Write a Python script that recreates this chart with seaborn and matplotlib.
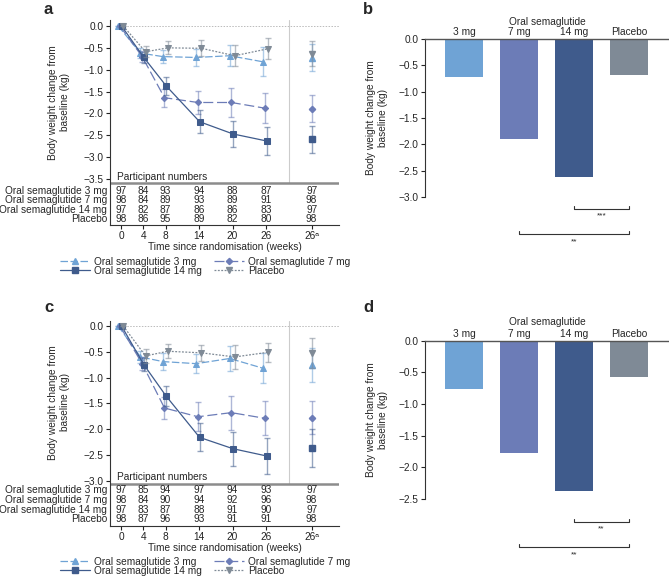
import numpy as np
import pandas as pd
import matplotlib
matplotlib.use('Agg')
import matplotlib.pyplot as plt
import seaborn as sns
from matplotlib.lines import Line2D

sns.set_style('ticks')
plt.rcParams['font.family'] = ['Liberation Sans', 'DejaVu Sans']
plt.rcParams['font.size'] = 7.3

# ---- data ----
weeks = [0, 4, 8, 14, 20, 26]
week_extra = 34.2          # position of the "26a" column
tick_labels = ['0', '4', '8', '14', '20', '26', '26\u1d43']
names = ['3 mg', '7 mg', '14 mg', 'Placebo']
row_names = ['Oral semaglutide 3 mg', 'Oral semaglutide 7 mg',
             'Oral semaglutide 14 mg', 'Placebo']

# panel a
a_mean = {
    '3 mg':    [0, -0.62, -0.70, -0.72, -0.68, -0.82],
    '7 mg':    [0, -0.70, -1.64, -1.75, -1.75, -1.88],
    '14 mg':   [0, -0.72, -1.37, -2.19, -2.47, -2.63],
    'Placebo': [0, -0.59, -0.50, -0.51, -0.68, -0.52],
}
a_se = {
    '3 mg':    [0, 0.12, 0.15, 0.19, 0.24, 0.33],
    '7 mg':    [0, 0.12, 0.21, 0.27, 0.33, 0.35],
    '14 mg':   [0, 0.12, 0.20, 0.26, 0.30, 0.33],
    'Placebo': [0, 0.13, 0.15, 0.18, 0.24, 0.24],
}
a_last = {'3 mg': -0.73, '7 mg': -1.89, '14 mg': -2.59, 'Placebo': -0.63}
a_last_se = {'3 mg': 0.31, '7 mg': 0.31, '14 mg': 0.31, 'Placebo': 0.29}
a_counts = {
    '3 mg':    [97, 84, 93, 94, 88, 87, 97],
    '7 mg':    [98, 84, 89, 93, 89, 91, 98],
    '14 mg':   [97, 82, 87, 86, 86, 83, 97],
    'Placebo': [98, 86, 95, 89, 82, 80, 98],
}

# panel c
c_mean = {
    '3 mg':    [0, -0.60, -0.69, -0.73, -0.63, -0.82],
    '7 mg':    [0, -0.73, -1.59, -1.76, -1.68, -1.79],
    '14 mg':   [0, -0.75, -1.36, -2.16, -2.38, -2.52],
    'Placebo': [0, -0.58, -0.49, -0.52, -0.60, -0.51],
}
c_se = {
    '3 mg':    [0, 0.12, 0.16, 0.19, 0.24, 0.29],
    '7 mg':    [0, 0.12, 0.22, 0.28, 0.33, 0.33],
    '14 mg':   [0, 0.12, 0.19, 0.27, 0.33, 0.35],
    'Placebo': [0, 0.13, 0.14, 0.15, 0.23, 0.19],
}
c_last = {'3 mg': -0.76, '7 mg': -1.78, '14 mg': -2.36, 'Placebo': -0.53}
c_last_se = {'3 mg': 0.33, '7 mg': 0.32, '14 mg': 0.37, 'Placebo': 0.29}
c_counts = {
    '3 mg':    [97, 85, 94, 97, 94, 93, 97],
    '7 mg':    [98, 84, 90, 94, 92, 96, 98],
    '14 mg':   [97, 83, 87, 88, 91, 90, 97],
    'Placebo': [98, 87, 96, 93, 91, 91, 98],
}

# bar panels b and d
b_vals = [-0.73, -1.90, -2.62, -0.68]
d_vals = [-0.76, -1.78, -2.37, -0.57]

colors = {'3 mg': '#6fa3d5', '7 mg': '#6c7cb7', '14 mg': '#3f5b8c', 'Placebo': '#7f8a96'}
markers = {'3 mg': '^', '7 mg': 'D', '14 mg': 's', 'Placebo': 'v'}
msizes = {'3 mg': 4, '7 mg': 3.2, '14 mg': 3.8, 'Placebo': 4}
lstyles = {'3 mg': (0, (6, 2)), '7 mg': (0, (8, 3)), '14 mg': '-', 'Placebo': (0, (1.5, 1.2))}
offsets = {'3 mg': -0.5, '7 mg': -0.2, '14 mg': 0.1, 'Placebo': 0.4}

W, H = 669, 577
fig = plt.figure(figsize=(W / 100, H / 100), dpi=100)


def rect(l, t, r, b):
    return [l / W, 1 - b / H, (r - l) / W, (b - t) / H]


def line_panel(ax, means, ses, last, last_se, counts, zero_px, ppu, top_px, bot_px,
               ymin_tick, gray_px, row_px, pn_px, label_y):
    d = lambda px: -(px - zero_px) / ppu
    ax.set_xlim(-1.97, 39.1)
    ax.set_ylim(d(bot_px), d(top_px))
    ax.axhline(0, xmin=0.05, color='#bbbbbb', lw=0.7, ls=(0, (1.5, 1.5)), zorder=0)
    frac = (bot_px - gray_px) / (bot_px - top_px)
    ax.axvline(30.1, ymin=frac, color='#cccccc', lw=0.8, zorder=0)
    ax.axhline(d(gray_px), color='#8c8c8c', lw=1.8)
    for name in names:
        c = colors[name]
        x = np.array(weeks) + offsets[name]
        ax.errorbar(x, means[name], yerr=ses[name], fmt='none', ecolor=c, alpha=0.55,
                    capsize=2, elinewidth=1, capthick=1)
        sns.lineplot(x=x, y=means[name], ax=ax, color=c, linestyle=lstyles[name], lw=0.9,
                     marker=markers[name], markersize=msizes[name], markeredgecolor=c)
        ax.errorbar([week_extra], [last[name]], yerr=[last_se[name]], fmt='none', ecolor=c,
                    alpha=0.55, capsize=2, elinewidth=1, capthick=1)
        ax.plot([week_extra], [last[name]], marker=markers[name], markersize=msizes[name],
                color=c, ls='none')
    ax.set_yticks(np.arange(0, ymin_tick - 0.01, -0.5))
    ax.set_xticks(weeks + [week_extra])
    ax.set_xticklabels(tick_labels)
    ax.tick_params(length=3, width=0.8, pad=1.5, colors='#222222')
    for s in ['top', 'right']:
        ax.spines[s].set_visible(False)
    for s in ['left', 'bottom']:
        ax.spines[s].set_linewidth(0.8)
        ax.spines[s].set_color('#333333')
    ax.text(-0.8, d(pn_px), 'Participant numbers', ha='left', va='center')
    for i, name in enumerate(names):
        y = d(row_px[i])
        ax.text(-2.5, y, row_names[i], ha='right', va='center')
        for w, n in zip(weeks + [week_extra], counts[name]):
            ax.text(w, y, str(n), ha='center', va='center')
    ax.set_xlabel('Time since randomisation (weeks)', labelpad=0.5)
    ax.set_ylabel('Body weight change from\nbaseline (kg)', linespacing=1.25)
    ax.yaxis.set_label_coords(-0.175, label_y)


def bar_panel(ax, vals, zero_px, ppu, bot_px, ymin_tick, oral_px, brackets, label_y):
    d = lambda px: -(px - zero_px) / ppu
    df = pd.DataFrame({'group': ['3 mg', '7 mg', '14 mg', 'Placebo'], 'change': vals})
    sns.barplot(data=df, x='group', y='change', hue='group', palette=colors, width=0.69,
                saturation=1, legend=False, ax=ax, linewidth=0)
    ax.set_xlim(-0.709, 3.727)
    ax.set_ylim(d(bot_px), 0)
    ax.xaxis.tick_top()
    ax.tick_params(axis='x', length=0, pad=1.5)
    ax.tick_params(axis='y', length=3, width=0.8, pad=1.5)
    ax.set_xlabel('')
    ax.set_ylabel('Body weight change from\nbaseline (kg)', linespacing=1.25)
    ax.yaxis.set_label_coords(-0.152, label_y)
    ax.set_yticks(np.arange(0, ymin_tick - 0.01, -0.5))
    ax.spines['left'].set_bounds(ymin_tick, 0)
    ax.spines['left'].set_linewidth(0.8)
    ax.spines['left'].set_color('#333333')
    ax.spines['top'].set_color('#555555')
    ax.spines['top'].set_linewidth(1)
    for s in ['bottom', 'right']:
        ax.spines[s].set_visible(False)
    ax.text(1.51, d(oral_px), 'Oral semaglutide', ha='center', va='center')
    for i, j, y_px, star_px, lab in brackets:
        ax.plot([i, i, j, j], [d(y_px - 3), d(y_px), d(y_px), d(y_px - 3)],
                color='#333333', lw=0.8, clip_on=False)
        ax.text((i + j) / 2, d(star_px), lab, ha='center', va='center', fontsize=6)


ax_a = fig.add_axes(rect(110, 20, 339, 225))
ax_c = fig.add_axes(rect(110, 320.7, 339, 526))
ax_b = fig.add_axes(rect(425, 39, 669, 250))
ax_d = fig.add_axes(rect(425, 340.7, 669, 560))

line_panel(ax_a, a_mean, a_se, a_last, a_last_se, a_counts, 26, 43.71, 20, 225, -3.5,
           183, [191, 200, 210, 219], 177, 0.598)
line_panel(ax_c, c_mean, c_se, c_last, c_last_se, c_counts, 326, 51.57, 320.7, 526, -3.0,
           484.3, [490.3, 500, 509.7, 519.3], 477.3, 0.603)
bar_panel(ax_b, b_vals, 39, 52.67, 250, -3.0, 22,
          [(2, 3, 209, 216, '***'), (1, 3, 234, 242, '**')], 0.626)
bar_panel(ax_d, d_vals, 340.7, 63.3, 560, -2.5, 322.3,
          [(2, 3, 522, 529, '**'), (1, 3, 547, 555, '**')], 0.638)

# legends
handles = [Line2D([], [], color=colors[n], ls=lstyles[n], lw=0.9, marker=markers[n],
                  markersize=msizes[n]) for n in names]
order = [0, 2, 1, 3]
for top in (257, 557):
    fig.legend([handles[k] for k in order], ['Oral semaglutide ' + names[k] if k < 3 else names[k]
                                             for k in order],
               ncol=2, loc='upper left', bbox_to_anchor=(60 / W, 1 - top / H), frameon=False,
               borderpad=0, borderaxespad=0, handlelength=3.0, handletextpad=0.35,
               columnspacing=1.2, labelspacing=-0.1, fontsize=7.3)

for lab, x, y in [('a', 43, 9.5), ('b', 363, 9.5), ('c', 44, 308), ('d', 363, 307)]:
    fig.text(x / W, 1 - y / H, lab, fontsize=12, fontweight='bold', ha='left', va='center')

fig.savefig('out.png', dpi=100)
